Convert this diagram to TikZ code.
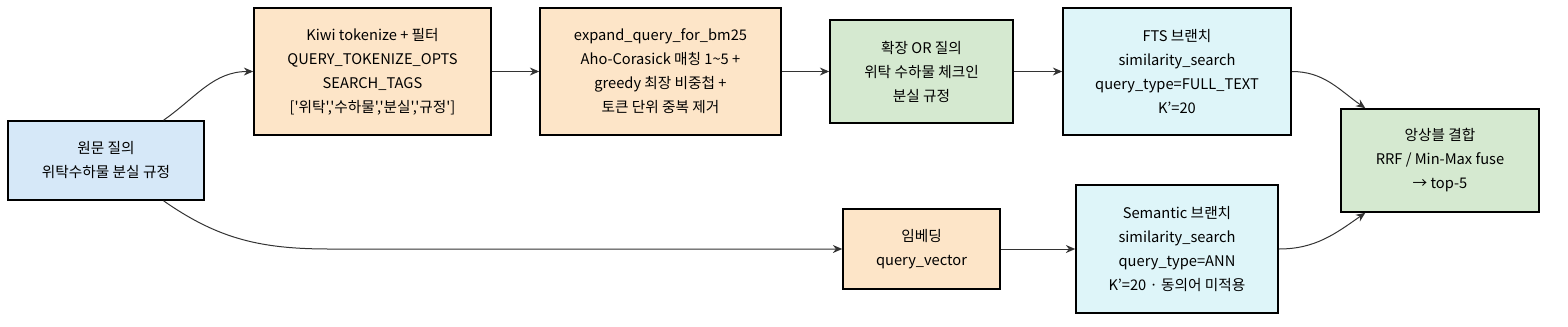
\documentclass[tikz,border=0pt]{standalone}
\usepackage{fontspec}
\setmainfont{Noto Sans CJK KR}[Ligatures=TeXOff]
\usepackage{tikz}
\usetikzlibrary{positioning,arrows.meta}
\definecolor{qblue}{HTML}{D6E8F8}
\definecolor{qpeach}{HTML}{FDE5C8}
\definecolor{qgreen}{HTML}{D5E9D0}
\definecolor{qcyan}{HTML}{DEF5F9}
\definecolor{qline}{HTML}{333333}

\begin{document}
\begin{tikzpicture}[x=0.75pt,y=-0.75pt,
		box/.style={draw=black,line width=1.2pt,inner sep=0pt,align=center,
			font=\fontsize{11}{18}\selectfont},
		flow/.style={draw=qline,line width=0.75pt,-{Stealth[length=7pt,width=6pt]}}]
		
		\useasboundingbox (0,0) rectangle (1568,326);
		
		\node[box,fill=qblue,minimum width=147pt,minimum height=59.25pt] (orig) at (106,160.5)
		{원문 질의\\위탁수하물 분실 규정};
		
		\node[box,fill=qpeach,minimum width=177.75pt,minimum height=95.25pt] (kiwi) at (372.5,71.5)
		{Kiwi tokenize + 필터\\QUERY\_TOKENIZE\_OPTS\\SEARCH\_TAGS\\{}['위탁','수하물','분실','규정']};
		
		\node[box,fill=qpeach,minimum width=180.75pt,minimum height=95.25pt] (expand) at (660.5,71.5)
		{expand\_query\_for\_bm25\\Aho-Corasick 매칭 1\textasciitilde5 +\\greedy 최장 비중첩 +\\토큰 단위 중복 제거};
		
		\node[box,fill=qgreen,minimum width=137.25pt,minimum height=77.25pt] (orq) at (921.5,71.5)
		{확장 OR 질의\\위탁 수하물 체크인\\분실 규정};
		
		\node[box,fill=qcyan,minimum width=171pt,minimum height=95.25pt] (fts) at (1177,71.5)
		{FTS 브랜치\\similarity\_search\\query\_type=FULL\_TEXT\\K’=20};
		
		\node[box,fill=qpeach,minimum width=117.75pt,minimum height=60pt] (embed) at (921.5,249)
		{임베딩\\query\_vector};
		
		\node[box,fill=qcyan,minimum width=151.5pt,minimum height=96pt] (sem) at (1177,249)
		{Semantic 브랜치\\similarity\_search\\query\_type=ANN\\K’=20 · 동의어 미적용};
		
		\node[box,fill=qgreen,minimum width=148.5pt,minimum height=77.25pt] (fuse) at (1440,160.5)
		{앙상블 결합\\RRF / Min-Max fuse\\→ top-5};
		
		\coordinate (low) at (330,249);
		
		\draw[flow] (orig.35) to[out=35,in=180] (kiwi.west);
		\draw[flow] (kiwi) -- (expand);
		\draw[flow] (expand) -- (orq);
		\draw[flow] (orq) -- (fts);
		\draw[flow] (fts.east) to[out=0,in=145] (fuse.145);
		
		\draw[flow] (orig.-35) to[out=-35,in=180] (low) -- (embed.west);
		\draw[flow] (embed) -- (sem);
		\draw[flow] (sem.east) to[out=0,in=-145] (fuse.-145);
		
	\end{tikzpicture}
\end{document}
